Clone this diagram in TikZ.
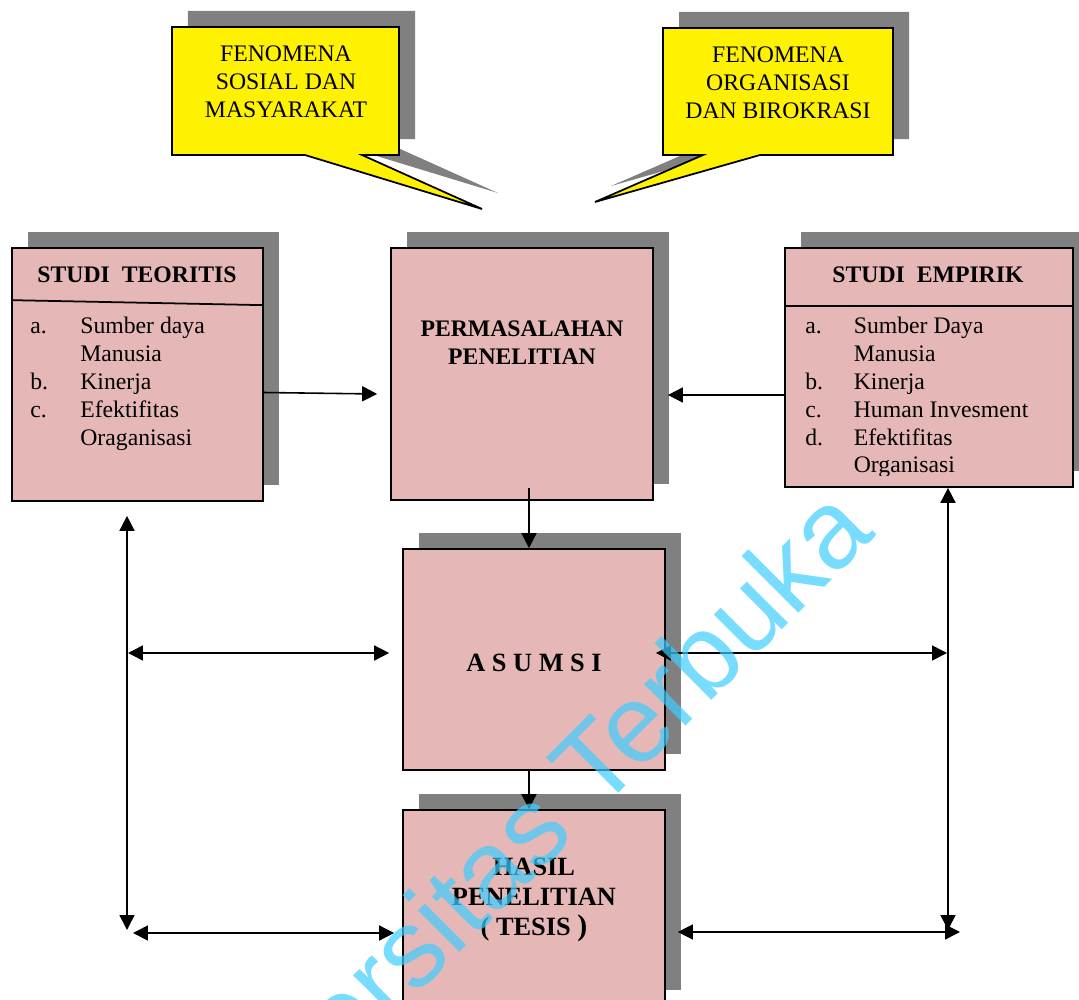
\documentclass[tikz,border=0pt]{standalone}
\usepackage{fontspec}
\setmainfont{Liberation Serif}
\newfontfamily\wmfont{Liberation Sans}
\usetikzlibrary{arrows.meta,shadows,calc}
\definecolor{boxpink}{RGB}{229,184,183}
\definecolor{shadowgray}{RGB}{128,128,128}
\definecolor{wmblue}{RGB}{62,205,255}

\begin{document}
\begin{tikzpicture}[
	x=0.02cm, y=-0.02cm,
	every node/.style = {font=\fontsize{13.5}{15.8}\selectfont, inner sep=0pt},
	shade gray/.style = {drop shadow={shadow xshift=0.32cm, shadow yshift=0.32cm, fill=shadowgray, opacity=1}},
	pinkbox/.style = {draw, line width=1pt, fill=boxpink, shade gray},
	balloon/.style = {draw, line width=1pt, fill=yellow, line join=miter, shade gray},
	head/.style = {font=\fontsize{13.5}{15.8}\selectfont\bfseries},
	big/.style = {font=\fontsize{15}{17.3}\selectfont\bfseries, align=center},
	tip/.style = {-{Triangle[length=0.3cm,width=0.3cm]}, line width=0.9pt},
	both/.style = {{Triangle[length=0.3cm,width=0.3cm]}-{Triangle[length=0.3cm,width=0.3cm]}, line width=0.9pt}
	]
	\useasboundingbox (0,0) rectangle (1079,1000);
	
	% Balloons
	\draw[balloon] (172,27) -- (399,27) -- (399,155) -- (362,155) -- (482,209) -- (305,155) -- (172,155) -- cycle;
	\node[align=center] (sosial) at (286,82) {FENOMENA\\SOSIAL DAN\\MASYARAKAT};
	\draw[balloon] (663,28) -- (893,28) -- (893,155) -- (760,155) -- (595,202) -- (703,155) -- (663,155) -- cycle;
	\node[align=center] (organisasi) at (778,83) {FENOMENA\\ORGANISASI\\DAN BIROKRASI};
	
	% Boxes
	\node[pinkbox, minimum width=5.02cm, minimum height=5.06cm] (teori) at (137.5,374.5) {};
	\node[pinkbox, minimum width=5.24cm, minimum height=5.04cm] (perm) at (522,374) {};
	\node[pinkbox, minimum width=5.76cm, minimum height=4.78cm] (empirik) at (929,367.5) {};
	\node[pinkbox, minimum width=5.24cm, minimum height=4.42cm] (asumsi) at (534,659.5) {};
	\node[pinkbox, minimum width=5.24cm, minimum height=3.92cm] (hasil) at (534,908) {};
	
	% Studi teoritis
	\draw[line width=1pt] ($(teori.north west)+(0,53)$) -- ($(teori.north east)+(0,58)$);
	\node[head, anchor=base] (teorihead) at (137,283) {STUDI\ \ TEORITIS};
	\node[anchor=base west] (teorilist) at (30,334) {\begin{tabular}[t]{@{}p{1cm}@{}l@{}}
		a. & Sumber daya\\
		   & Manusia\\
		b. & Kinerja\\
		c. & Efektifitas\\
		   & Oraganisasi
	\end{tabular}};
	
	% Studi empirik
	\draw[line width=1pt] ($(empirik.north west)+(0,59)$) -- ($(empirik.north east)+(0,59)$);
	\node[head, anchor=base] (empirikhead) at (928,283) {STUDI\ \ EMPIRIK};
	\begin{scope}
		\clip (785,310) rectangle (1073,475);
		\node[anchor=base west] (empiriklist) at (805,334) {\begin{tabular}[t]{@{}p{0.97cm}@{}l@{}}
			a. & Sumber Daya\\
			   & Manusia\\
			b. & Kinerja\\
			c. & Human Invesment\\
			d. & Efektifitas\\
			   & Organisasi
		\end{tabular}};
	\end{scope}
	
	% Texts
	\node[head, align=center] (permtext) at (522,343) {PERMASALAHAN\\PENELITIAN};
	\node[big] (asumsitext) at (534,663) {A S U M S I};
	\node[big] (hasiltext) at (534,900) {HASIL\\PENELITIAN\\( TESIS {\fontsize{17}{17}\selectfont )}};
	
	% Free ends of the frame
	\coordinate (lt) at ($(teori.south)+(-10.5,14)$);
	\coordinate (lb) at (127,930);
	\coordinate (lm) at (128,653);
	\coordinate (ll) at (133,933);
	\coordinate (rt) at ($(empirik.south)+(19,0)$);
	\coordinate (rb) at (948,930);
	\coordinate (rm) at (947,653);
	\coordinate (rl) at (960,932);
	
	% Connectors
	\draw[tip] ($(teori.east)+(0,18)$) -- ($(perm.west)+(-13,20)$);
	\draw[tip] ($(empirik.west)+(0,27.5)$) -- ($(perm.east)+(14,21)$);
	\draw[tip] ($(perm.south)+(7,-13)$) -- ($(asumsi.north)+(-5,0)$);
	\draw[tip] ($(asumsi.south)+(-5,0)$) -- ($(hasil.north)+(-5,0)$);
	\draw[both] (lt) -- (lb);
	\draw[both] (rt) -- (rb);
	\draw[both] (lm) -- ($(asumsi.west)+(-13,-6.5)$);
	\draw[both] ($(asumsi.east)+(-10,-6.5)$) -- (rm);
	\draw[both] (ll) -- ($(hasil.west)+(-8,25)$);
	\draw[both] ($(hasil.east)+(12,24)$) -- (rl);
	
	% Watermark
	\node[font=\wmfont\fontsize{63}{63}\selectfont, text=wmblue, opacity=0.7, rotate=45, anchor=base east] (wm) at (877,535) {Universitas Terbuka};
	
\end{tikzpicture}
\end{document}
